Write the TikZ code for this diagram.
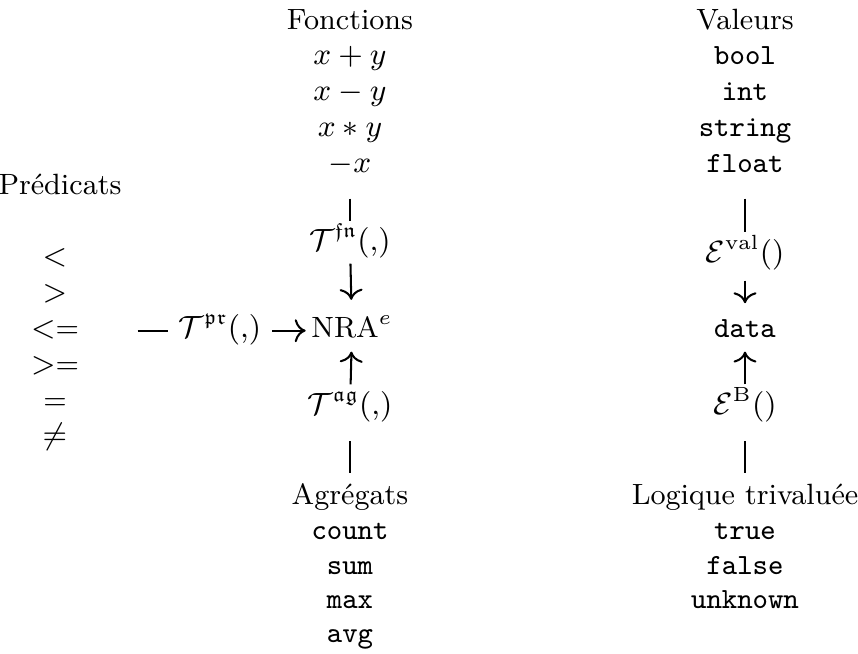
\documentclass[tikz,border=0pt]{standalone}
\usepackage{amssymb}
\usepackage{fontspec}
\usetikzlibrary{arrows.meta}
\begin{document}
\begin{tikzpicture}[x=0.2934pt,y=-0.2934pt,
  txt/.style={anchor=base,inner sep=0pt,text height=6.5pt,text depth=2.2pt,
    font=\fontsize{8.6}{10}\selectfont},
  conn/.style={line width=0.6pt},
  arr/.style={conn,-{Computer Modern Rightarrow[scale=1.1]}}]
\useasboundingbox (0,0) rectangle (858,654);
% Predicates
\node[txt] (pred) at (60,195) {Prédicats};
\node[txt] (lt) at (55,266) {$<$};
\node[txt] (gt) at (55,302) {$>$};
\node[txt] (le) at (55,338) {$<$=};
\node[txt] (ge) at (55,374) {$>$=};
\node[txt] (eq) at (55,410) {=};
\node[txt] (ne) at (55,445) {$\neq$};
% Functions column
\node[txt] (fonc) at (350,30) {Fonctions};
\node[txt] (f1) at (350,65) {$x+y$};
\node[txt] (f2) at (350,101) {$x-y$};
\node[txt] (f3) at (350,137) {$x*y$};
\node[txt] (f4) at (350,173) {$-x$};
\node[txt] (Tfn) at (350,251) {$\mathcal{T}^{\mathfrak{fn}}(\mathord{,})$};
\node[txt] (nra) at (352,338) {NRA$^e$};
\node[txt] (Tpr) at (220,338) {$\mathcal{T}^{\mathfrak{pr}}(\mathord{,})$};
\node[txt] (Tag) at (350,415) {$\mathcal{T}^{\mathfrak{ag}}(\mathord{,})$};
\node[txt] (agr) at (350,505) {Agrégats};
\node[txt] (a1) at (350,539) {\texttt{count}};
\node[txt] (a2) at (350,574) {\texttt{sum}};
\node[txt] (a3) at (350,608) {\texttt{max}};
\node[txt] (a4) at (350,642) {\texttt{avg}};
% Values column
\node[txt] (val) at (745,30) {Valeurs};
\node[txt] (v1) at (745,65) {\texttt{bool}};
\node[txt] (v2) at (745,101) {\texttt{int}};
\node[txt] (v3) at (745,137) {\texttt{string}};
\node[txt] (v4) at (745,173) {\texttt{float}};
\node[txt] (Eval) at (745,263) {$\mathcal{E}^{\mathrm{val}}()$};
\node[txt] (data) at (745,338) {\texttt{data}};
\node[txt] (EB) at (745,415) {$\mathcal{E}^{\mathrm{B}}()$};
\node[txt] (log) at (745,505) {Logique trivaluée};
\node[txt] (l1) at (745,539) {\texttt{true}};
\node[txt] (l2) at (745,574) {\texttt{false}};
\node[txt] (l3) at (745,608) {\texttt{unknown}};
% connectors column B
\draw[conn,shorten <=5.1pt,shorten >=2pt] (f4) -- (Tfn);
\draw[arr,shorten <=1.3pt,shorten >=4.5pt] (Tfn) -- (nra);
\draw[arr,shorten <=2.3pt,shorten >=1.6pt] (Tag) -- (nra);
\draw[conn,shorten <=2.8pt,shorten >=5.2pt] (agr) -- (Tag);
% horizontal
\draw[conn,shorten <=17pt,shorten >=3pt] (le) -- (Tpr);
\draw[arr,shorten <=3pt,shorten >=1.5pt] (Tpr) -- (nra);
% connectors column C
\draw[conn,shorten <=5.1pt,shorten >=2.3pt] (v4) -- (Eval);
\draw[arr,shorten <=2.8pt,shorten >=3.5pt] (Eval) -- (data);
\draw[arr,shorten <=2.3pt,shorten >=1.6pt] (EB) -- (data);
\draw[conn,shorten <=2.8pt,shorten >=5.2pt] (log) -- (EB);
\end{tikzpicture}
\end{document}
